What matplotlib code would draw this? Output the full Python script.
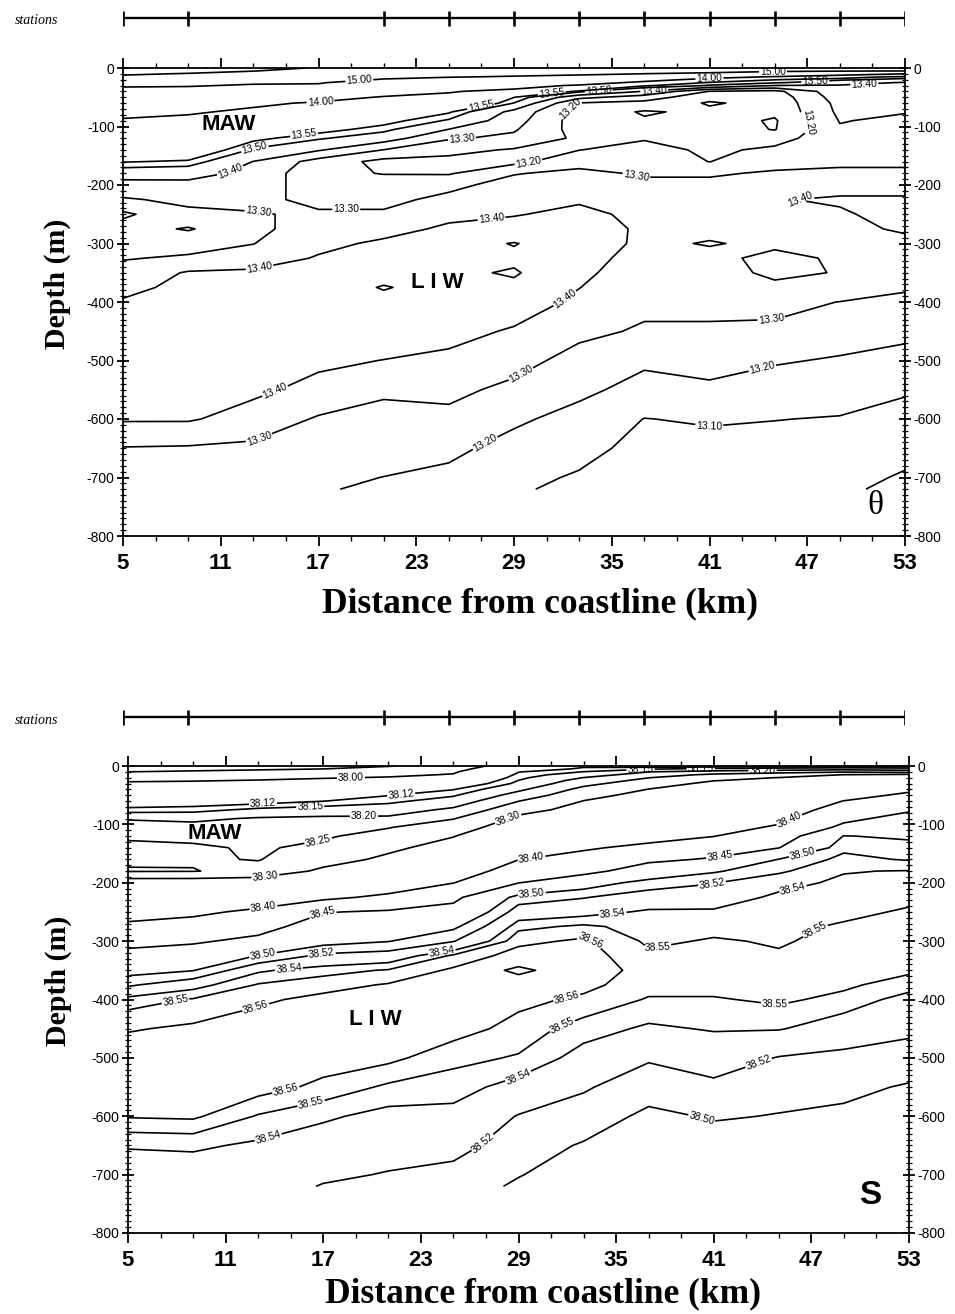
import numpy as np
import matplotlib
matplotlib.use("Agg")
import matplotlib.pyplot as plt
from matplotlib.ticker import FixedLocator, FuncFormatter
from matplotlib import font_manager as fm

# ---------------- data ----------------
stations_km = [5, 9, 21, 25, 29, 33, 37, 41, 45, 49, 53]
grid_km = [5, 9, 13, 17, 21, 25, 29, 33, 37, 41, 45, 49, 53]
depth_rows = [0, 5, 10, 15, 20, 25, 30, 40, 50, 60, 75, 90, 105, 120, 140, 160, 180,
              200, 225, 250, 275, 300, 325, 350, 375, 400, 450, 500, 550, 600, 650, 700, 720]
x_tick_km = [5, 11, 17, 23, 29, 35, 41, 47, 53]
depth_ticks = [0, -100, -200, -300, -400, -500, -600, -700, -800]

# potential temperature profiles (one list per grid column, values at depth_rows)
theta_05 = [15.85, 15.72, 15.56, 15.42, 15.30, 15.18, 15.05, 14.85, 14.62, 14.42, 14.15, 13.95, 13.82, 13.72, 13.63, 13.555, 13.45,
            13.36, 13.29, 13.18, 13.245, 13.26, 13.295, 13.33, 13.37, 13.41, 13.44, 13.45, 13.44, 13.41, 13.295, 13.26, 13.25]
theta_09 = [15.80, 15.64, 15.47, 15.35, 15.25, 15.15, 15.03, 14.85, 14.60, 14.35, 14.05, 13.90, 13.80, 13.71, 13.63, 13.54, 13.44,
            13.37, 13.32, 13.28, 13.19, 13.27, 13.31, 13.41, 13.43, 13.45, 13.46, 13.46, 13.44, 13.41, 13.29, 13.26, 13.25]
theta_13 = [15.72, 15.51, 15.38, 15.26, 15.15, 15.05, 14.96, 14.72, 14.35, 14.08, 13.92, 13.78, 13.66, 13.57, 13.49, 13.398, 13.37,
            13.35, 13.32, 13.295, 13.285, 13.298, 13.34, 13.42, 13.45, 13.46, 13.47, 13.46, 13.42, 13.36, 13.28, 13.235, 13.22]
theta_17 = [15.45, 15.36, 15.27, 15.18, 15.10, 15.03, 14.95, 14.60, 14.20, 13.95, 13.80, 13.66, 13.58, 13.51, 13.41, 13.26, 13.23,
            13.25, 13.28, 13.31, 13.33, 13.37, 13.41, 13.44, 13.46, 13.47, 13.47, 13.42, 13.37, 13.29, 13.25, 13.215, 13.205]
theta_21 = [15.35, 15.25, 15.15, 15.06, 14.98, 14.80, 14.60, 14.25, 13.96, 13.82, 13.68, 13.58, 13.52, 13.45, 13.298, 13.17, 13.195,
            13.25, 13.28, 13.31, 13.36, 13.42, 13.45, 13.47, 13.505, 13.48, 13.46, 13.398, 13.315, 13.27, 13.23, 13.199, 13.19]
theta_25 = [15.30, 15.20, 15.11, 15.02, 14.90, 14.70, 14.50, 14.05, 13.85, 13.72, 13.56, 13.49, 13.398, 13.31, 13.23, 13.17, 13.19,
            13.28, 13.32, 13.37, 13.42, 13.46, 13.47, 13.48, 13.47, 13.46, 13.43, 13.38, 13.32, 13.28, 13.22, 13.18, 13.17]
theta_29 = [15.25, 15.15, 15.07, 14.98, 14.80, 14.55, 14.30, 13.80, 13.552, 13.498, 13.37, 13.34, 13.31, 13.28, 13.19, 13.17, 13.295,
            13.33, 13.36, 13.395, 13.43, 13.505, 13.48, 13.51, 13.48, 13.45, 13.39, 13.33, 13.28, 13.215, 13.17, 13.125, 13.11]
theta_33 = [15.22, 15.13, 15.05, 14.92, 14.70, 14.40, 13.90, 13.52, 13.33, 13.195, 13.16, 13.15, 13.16, 13.18, 13.198, 13.27, 13.32,
            13.36, 13.39, 13.42, 13.43, 13.44, 13.43, 13.42, 13.402, 13.38, 13.32, 13.27, 13.22, 13.17, 13.13, 13.09, 13.08]
theta_37 = [15.20, 15.10, 14.995, 14.75, 14.30, 13.80, 13.56, 13.395, 13.25, 13.17, 13.09, 13.11, 13.15, 13.19, 13.24, 13.27, 13.29,
            13.32, 13.35, 13.38, 13.39, 13.385, 13.37, 13.35, 13.33, 13.32, 13.29, 13.215, 13.17, 13.098, 13.07, 13.04, 13.03]
theta_41 = [15.18, 15.08, 14.95, 14.30, 13.75, 13.53, 13.495, 13.195, 13.13, 13.09, 13.12, 13.14, 13.15, 13.16, 13.18, 13.198, 13.29,
            13.32, 13.35, 13.37, 13.38, 13.405, 13.38, 13.36, 13.34, 13.32, 13.29, 13.24, 13.18, 13.11, 13.07, 13.03, 13.02]
theta_45 = [15.15, 15.05, 14.80, 13.95, 13.552, 13.51, 13.398, 13.17, 13.14, 13.13, 13.12, 13.09, 13.095, 13.16, 13.22, 13.27, 13.31,
            13.35, 13.395, 13.39, 13.38, 13.385, 13.42, 13.42, 13.38, 13.33, 13.28, 13.21, 13.15, 13.102, 13.07, 13.04, 13.03]
theta_49 = [15.22, 15.05, 14.35, 13.60, 13.51, 13.45, 13.39, 13.37, 13.35, 13.33, 13.32, 13.305, 13.29, 13.27, 13.26, 13.28, 13.32,
            13.37, 13.41, 13.39, 13.38, 13.38, 13.39, 13.395, 13.37, 13.298, 13.25, 13.19, 13.14, 13.095, 13.06, 13.03, 13.02]
theta_53 = [15.30, 15.01, 13.99, 13.53, 13.48, 13.39, 13.37, 13.35, 13.33, 13.32, 13.305, 13.28, 13.26, 13.25, 13.26, 13.28, 13.32,
            13.37, 13.41, 13.43, 13.41, 13.38, 13.36, 13.33, 13.31, 13.28, 13.23, 13.16, 13.11, 13.07, 13.03, 12.99, 12.97]

# salinity profiles
sal_05 = [37.85, 37.87, 37.90, 37.93, 37.96, 37.99, 38.015, 38.04, 38.07, 38.09, 38.13, 38.195, 38.225, 38.245, 38.258, 38.256, 38.247,
          38.33, 38.35, 38.38, 38.41, 38.44, 38.46, 38.49, 38.517, 38.545, 38.559, 38.567, 38.568, 38.561, 38.541, 38.533, 38.531]
sal_09 = [37.86, 37.88, 37.91, 37.94, 37.97, 37.995, 38.02, 38.045, 38.07, 38.095, 38.135, 38.19, 38.215, 38.24, 38.256, 38.255, 38.248,
          38.33, 38.36, 38.39, 38.42, 38.445, 38.47, 38.499, 38.535, 38.551, 38.562, 38.568, 38.569, 38.562, 38.542, 38.533, 38.531]
sal_13 = [37.87, 37.89, 37.92, 37.95, 37.98, 38.005, 38.025, 38.05, 38.08, 38.10, 38.16, 38.205, 38.225, 38.24, 38.245, 38.248, 38.265,
          38.33, 38.37, 38.41, 38.435, 38.46, 38.501, 38.538, 38.551, 38.558, 38.566, 38.57, 38.565, 38.549, 38.538, 38.530, 38.528]
sal_17 = [37.88, 37.90, 37.93, 37.96, 37.995, 38.015, 38.03, 38.06, 38.09, 38.119, 38.17, 38.21, 38.23, 38.245, 38.26, 38.28, 38.31,
          38.35, 38.39, 38.448, 38.47, 38.49, 38.525, 38.546, 38.556, 38.563, 38.568, 38.566, 38.557, 38.542, 38.533, 38.523, 38.519]
sal_21 = [37.895, 37.93, 37.96, 37.985, 38.005, 38.03, 38.05, 38.08, 38.118, 38.14, 38.175, 38.21, 38.248, 38.265, 38.29, 38.31, 38.34,
          38.37, 38.41, 38.455, 38.475, 38.499, 38.53, 38.551, 38.561, 38.566, 38.57, 38.563, 38.548, 38.536, 38.527, 38.519, 38.516]
sal_25 = [37.95, 37.97, 37.99, 38.005, 38.03, 38.055, 38.075, 38.118, 38.145, 38.17, 38.21, 38.248, 38.275, 38.298, 38.32, 38.345, 38.37,
          38.399, 38.44, 38.465, 38.495, 38.519, 38.552, 38.562, 38.567, 38.57, 38.565, 38.553, 38.545, 38.536, 38.527, 38.514, 38.51]
sal_29 = [38.05, 38.08, 38.118, 38.13, 38.14, 38.151, 38.16, 38.19, 38.22, 38.249, 38.285, 38.31, 38.33, 38.35, 38.375, 38.399, 38.425,
          38.449, 38.51, 38.53, 38.547, 38.557, 38.565, 38.585, 38.568, 38.563, 38.556, 38.549, 38.535, 38.519, 38.51, 38.501, 38.497]
sal_33 = [38.11, 38.13, 38.151, 38.175, 38.201, 38.22, 38.235, 38.265, 38.285, 38.301, 38.315, 38.33, 38.345, 38.365, 38.395, 38.415, 38.435,
          38.485, 38.519, 38.535, 38.552, 38.562, 38.565, 38.566, 38.563, 38.558, 38.545, 38.535, 38.522, 38.512, 38.498, 38.49, 38.487]
sal_37 = [38.10, 38.145, 38.199, 38.225, 38.249, 38.265, 38.28, 38.301, 38.315, 38.325, 38.34, 38.355, 38.37, 38.385, 38.41, 38.44, 38.475,
          38.51, 38.53, 38.542, 38.546, 38.548, 38.552, 38.556, 38.554, 38.549, 38.538, 38.522, 38.51, 38.495, 38.485, 38.475, 38.47]
sal_41 = [38.10, 38.16, 38.22, 38.26, 38.285, 38.299, 38.31, 38.32, 38.33, 38.34, 38.355, 38.37, 38.385, 38.399, 38.425, 38.455, 38.497,
          38.519, 38.532, 38.542, 38.547, 38.551, 38.554, 38.556, 38.554, 38.549, 38.541, 38.531, 38.515, 38.502, 38.49, 38.48, 38.476]
sal_45 = [38.10, 38.17, 38.235, 38.275, 38.301, 38.31, 38.32, 38.335, 38.35, 38.36, 38.375, 38.39, 38.405, 38.425, 38.449, 38.501, 38.516,
          38.535, 38.543, 38.546, 38.548, 38.549, 38.551, 38.553, 38.553, 38.552, 38.541, 38.519, 38.508, 38.499, 38.49, 38.48, 38.476]
sal_49 = [38.10, 38.18, 38.245, 38.301, 38.315, 38.33, 38.34, 38.36, 38.38, 38.401, 38.42, 38.44, 38.46, 38.501, 38.515, 38.526, 38.539,
          38.543, 38.546, 38.548, 38.551, 38.553, 38.554, 38.553, 38.552, 38.547, 38.532, 38.515, 38.505, 38.496, 38.488, 38.48, 38.477]
sal_53 = [38.10, 38.17, 38.235, 38.31, 38.325, 38.34, 38.355, 38.39, 38.41, 38.425, 38.445, 38.465, 38.48, 38.495, 38.51, 38.518, 38.541,
          38.544, 38.548, 38.551, 38.554, 38.556, 38.555, 38.552, 38.545, 38.535, 38.524, 38.512, 38.498, 38.488, 38.48, 38.472, 38.47]

theta_plain_levels = [13.00, 15.50]
theta_labeled = [13.10, 13.20, 13.30, 13.40, 13.50, 13.55, 14.00, 15.00]
sal_plain_levels = [37.90, 38.58]
sal_labeled = [38.00, 38.12, 38.15, 38.20, 38.25, 38.30, 38.40, 38.45, 38.50, 38.52, 38.54, 38.55, 38.56]

# ---------------- style / layout ----------------
names = {f.name for f in fm.fontManager.ttflist}
SANS = 'Liberation Sans' if 'Liberation Sans' in names else 'DejaVu Sans'
NARROW = 'Liberation Sans Narrow' if 'Liberation Sans Narrow' in names else SANS
SERIF = 'Liberation Serif' if 'Liberation Serif' in names else 'DejaVu Serif'
plt.rcParams['axes.unicode_minus'] = False
plt.rcParams['font.family'] = SANS

W, H = 955, 1314
fig = plt.figure(figsize=(W / 100, H / 100), dpi=100)


def rect(l, t, r, b):
    return [l / W, 1 - b / H, (r - l) / W, (b - t) / H]


theta_label_pts = [(19.5, -20), (44.9, -10), (17.1, -52), (41, -20), (16.1, -111), (34.2, -38),
                   (50.5, -24), (13.1, -140), (31.3, -40), (47.5, -24), (37.6, -38), (11.5, -172),
                   (26.9, -58), (18.7, -246), (13.2, -266), (25.8, -120), (29.9, -163), (33.2, -92),
                   (36.5, -186), (46.7, -95), (46.5, -203), (27.6, -254), (13.4, -343), (32, -390),
                   (14.3, -550), (13.3, -630), (29.4, -522), (44.8, -434), (27.2, -640), (44.3, -519),
                   (41, -610)]
sal_label_pts = [(18.7, -20), (21.8, -52), (13.3, -67), (16.2, -72), (19.5, -87), (16.7, -130),
                 (13.4, -181), (28.2, -80), (13.3, -238), (29.8, -158), (45.6, -90), (16.9, -249),
                 (41.4, -158), (13.3, -324), (29.8, -215), (46.5, -155), (16.9, -321), (40.9, -203),
                 (14.9, -352), (34.8, -257), (45.8, -203), (24.3, -321), (47.6, -297), (37.7, -332),
                 (33.4, -300), (8, -412), (12.8, -409), (14.7, -555), (16.3, -583), (13.6, -635),
                 (31.9, -390), (31.8, -452), (29, -533), (26.9, -648), (44.7, -418), (43.9, -518),
                 (40.3, -600), (40.2, -4), (44.0, -8), (36.5, -6)]


def draw_panel(box, columns, plain_levels, labeled, label_pts):
    ax = fig.add_axes(rect(*box))
    Z = np.column_stack(columns)
    X, Y = np.meshgrid(grid_km, -np.array(depth_rows, dtype=float))
    ax.contour(X, Y, Z, levels=plain_levels, colors='black', linewidths=1.2)
    cs = ax.contour(X, Y, Z, levels=labeled, colors='black', linewidths=1.2)
    ax.clabel(cs, fmt='%.2f', fontsize=7.5, inline=True, inline_spacing=1, manual=label_pts)
    ax.set_xlim(5, 53)
    ax.set_ylim(-800, 0)
    ax.xaxis.set_major_locator(FixedLocator(x_tick_km))
    ax.xaxis.set_minor_locator(FixedLocator(list(range(5, 54, 2))))
    ax.yaxis.set_major_locator(FixedLocator(depth_ticks))
    ax.yaxis.set_minor_locator(FixedLocator(list(range(-800, 1, 10))))
    ax.yaxis.set_major_formatter(FuncFormatter(lambda v, p: '%d' % v))
    ax.tick_params(axis='x', which='major', direction='out', length=7, width=1.3,
                   top=True, bottom=True, pad=5)
    ax.tick_params(axis='x', which='minor', direction='out', length=3.5, width=1.0,
                   top=True, bottom=True)
    ax.tick_params(axis='y', which='major', direction='inout', length=8, width=1.3,
                   left=True, right=True, labelleft=True, labelright=True, pad=2, labelsize=10)
    ax.tick_params(axis='y', which='minor', direction='inout', length=5, width=0.9,
                   left=True, right=True)
    for t in ax.get_xticklabels():
        t.set_fontfamily(NARROW)
        t.set_fontweight('bold')
        t.set_fontsize(16)
    for s in ax.spines.values():
        s.set_linewidth(1.3)
    return ax


def station_bar(y_px, l, r):
    ax = fig.add_axes(rect(l, y_px - 10, r, y_px + 10))
    ax.set_xlim(5, 53)
    ax.set_ylim(-1, 1)
    ax.axis('off')
    ax.plot([stations_km[0], stations_km[-1]], [0, 0], color='black', lw=1.7)
    ax.vlines(stations_km, -0.75, 0.75, colors='black', lw=1.9)
    fig.text(37 / W, 1 - (y_px + 3) / H, 'stations', family=SERIF, style='italic',
             fontsize=10, ha='center', va='center')


# top panel (theta)
ax1 = draw_panel((123, 68, 905, 536),
                 [theta_05, theta_09, theta_13, theta_17, theta_21, theta_25, theta_29,
                  theta_33, theta_37, theta_41, theta_45, theta_49, theta_53],
                 theta_plain_levels, theta_labeled, theta_label_pts)
ax1.text(11.5, -97, 'MAW', fontsize=16, fontweight='bold', ha='center', va='center')
ax1.text(24.3, -367, 'L I W', fontsize=16, fontweight='bold', ha='center', va='center')
ax1.text(51.2, -748, '\u03b8', family=SERIF, fontsize=24, ha='center', va='center')
station_bar(18, 123, 905)
fig.text(57 / W, 1 - 284 / H, 'Depth (m)', family=SERIF, fontweight='bold', fontsize=21.5,
         rotation=90, ha='center', va='center')
fig.text(540 / W, 1 - 604 / H, 'Distance from coastline (km)', family=SERIF,
         fontweight='bold', fontsize=25.5, ha='center', va='center')

# bottom panel (salinity)
ax2 = draw_panel((128, 766, 909, 1233),
                 [sal_05, sal_09, sal_13, sal_17, sal_21, sal_25, sal_29,
                  sal_33, sal_37, sal_41, sal_45, sal_49, sal_53],
                 sal_plain_levels, sal_labeled, sal_label_pts)
ax2.text(10.3, -115, 'MAW', fontsize=16, fontweight='bold', ha='center', va='center')
ax2.text(20.2, -435, 'L I W', fontsize=16, fontweight='bold', ha='center', va='center')
ax2.text(50.6, -735, 'S', fontsize=24, fontweight='bold', ha='center', va='center')
station_bar(717, 123, 905)
fig.text(58 / W, 1 - 981 / H, 'Depth (m)', family=SERIF, fontweight='bold', fontsize=21.5,
         rotation=90, ha='center', va='center')
fig.text(543 / W, 1 - 1294 / H, 'Distance from coastline (km)', family=SERIF,
         fontweight='bold', fontsize=25.5, ha='center', va='center')

fig.savefig('out.png', dpi=100)
